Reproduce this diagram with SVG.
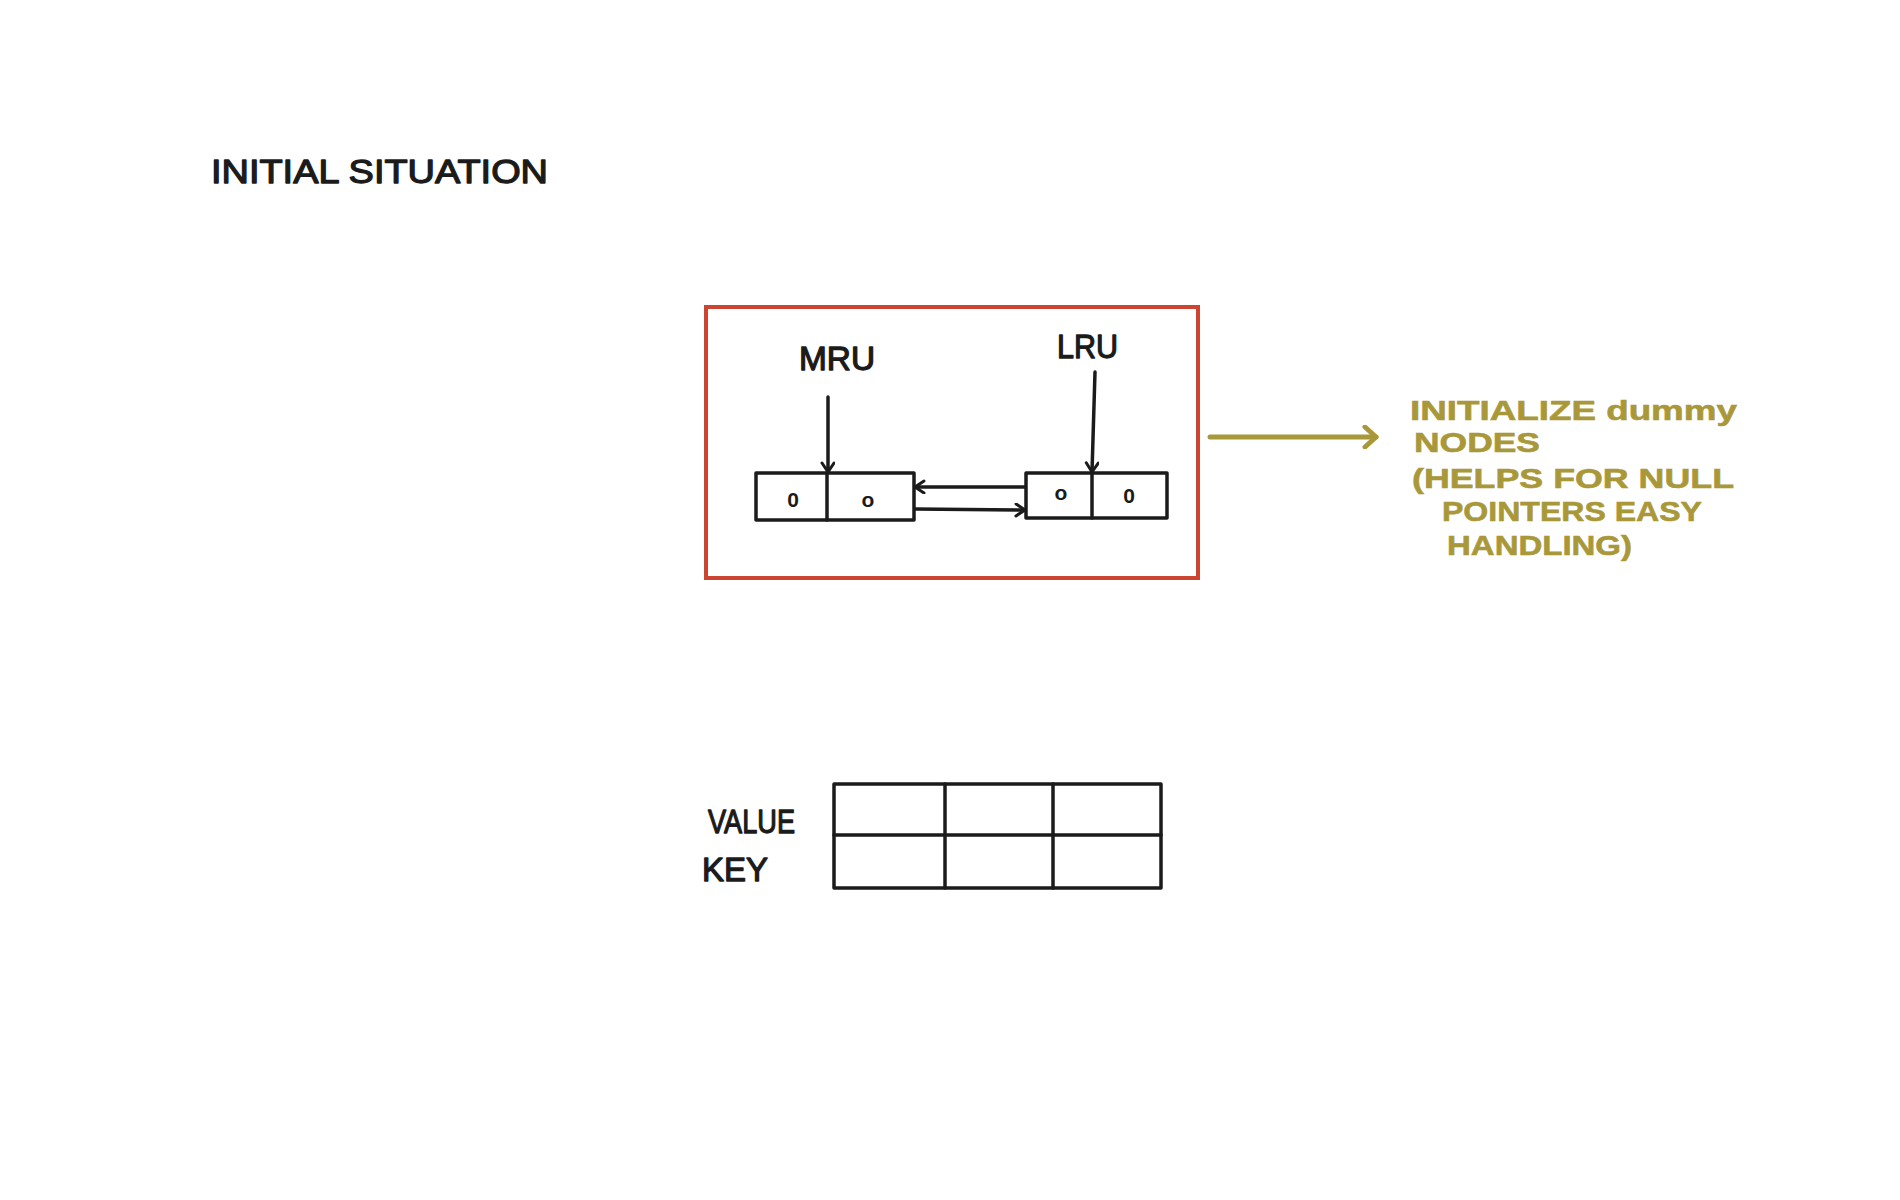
<svg xmlns="http://www.w3.org/2000/svg" width="1900" height="1200" viewBox="0 0 1900 1200">
  <style>
    .ink { fill: none; stroke: #1b1b1b; stroke-width: 3.5; stroke-linecap: round; stroke-linejoin: round; }
    .frame { fill: none; stroke: #cb4532; stroke-width: 4; }
    .gold { fill: none; stroke: #a9983a; stroke-width: 5; stroke-linecap: round; stroke-linejoin: round; }
    .lbl { font-family: "Liberation Sans", Arial, sans-serif; fill: #1b1b1b; stroke: #1b1b1b; stroke-width: 1.3; stroke-linejoin: round; font-size: 34px; }
    .cell { font-family: "Liberation Sans", Arial, sans-serif; fill: #1b1b1b; font-size: 21px; font-weight: bold; text-anchor: middle; }
    .note { font-family: "Liberation Sans", Arial, sans-serif; fill: #a9983a; stroke: #a9983a; stroke-width: 0.6; font-size: 28px; font-weight: bold; }
  </style>
  <defs>
    <marker id="ah" markerUnits="userSpaceOnUse" markerWidth="16" markerHeight="16" refX="11" refY="7" orient="auto">
      <path d="M2,1 L11,7 L2,13" fill="none" stroke="#1b1b1b" stroke-width="3" stroke-linecap="round" stroke-linejoin="round"/>
    </marker>
    <marker id="ahg" markerUnits="userSpaceOnUse" markerWidth="20" markerHeight="24" refX="14" refY="12" orient="auto">
      <path d="M3,2 L14,12 L3,22" fill="none" stroke="#a9983a" stroke-width="5" stroke-linecap="round" stroke-linejoin="round"/>
    </marker>
  </defs>
  <rect width="1900" height="1200" fill="#ffffff"/>

  <g id="title">
    <text class="lbl" x="211" y="183" textLength="337" lengthAdjust="spacingAndGlyphs" stroke-width="2">INITIAL SITUATION</text>
  </g>

  <g id="dummy-frame">
    <rect class="frame" x="706" y="307" width="492" height="271"/>
  </g>

  <g id="mru-label">
    <text class="lbl" x="799" y="370" textLength="76" lengthAdjust="spacingAndGlyphs">MRU</text>
  </g>
  <g id="lru-label">
    <text class="lbl" x="1057" y="358" textLength="61" lengthAdjust="spacingAndGlyphs">LRU</text>
  </g>

  <g id="node-mru">
    <rect class="ink" x="756" y="473" width="158" height="47"/>
    <line class="ink" x1="827" y1="473" x2="827" y2="520"/>
    <text class="cell" x="793" y="507">0</text>
    <text class="cell" x="868" y="507" font-size="18">o</text>
  </g>

  <g id="node-lru">
    <rect class="ink" x="1026" y="473" width="141" height="45"/>
    <line class="ink" x1="1092" y1="473" x2="1092" y2="518"/>
    <text class="cell" x="1061" y="500" font-size="18">o</text>
    <text class="cell" x="1129" y="503">0</text>
  </g>

  <g id="note">
    <text class="note" x="1410" y="420" textLength="327" lengthAdjust="spacingAndGlyphs">INITIALIZE dummy</text>
    <text class="note" x="1414" y="452" textLength="126" lengthAdjust="spacingAndGlyphs">NODES</text>
    <text class="note" x="1412" y="488" textLength="322" lengthAdjust="spacingAndGlyphs">(HELPS FOR NULL</text>
    <text class="note" x="1442" y="521" textLength="260" lengthAdjust="spacingAndGlyphs">POINTERS EASY</text>
    <text class="note" x="1447" y="555" textLength="185" lengthAdjust="spacingAndGlyphs">HANDLING)</text>
  </g>

  <g id="hash-table">
    <rect class="ink" x="834" y="784" width="327" height="104"/>
    <line class="ink" x1="834" y1="835" x2="1161" y2="835"/>
    <line class="ink" x1="945" y1="784" x2="945" y2="888"/>
    <line class="ink" x1="1053" y1="784" x2="1053" y2="888"/>
  </g>
  <g id="table-labels">
    <text class="lbl" x="708" y="833" textLength="87" lengthAdjust="spacingAndGlyphs">VALUE</text>
    <text class="lbl" x="702" y="881" textLength="66" lengthAdjust="spacingAndGlyphs">KEY</text>
  </g>

  <g id="connectors">
    <line class="ink" x1="828" y1="397" x2="828" y2="472" stroke-width="3" marker-end="url(#ah)"/>
    <line class="ink" x1="1095" y1="372" x2="1092" y2="472" stroke-width="3" marker-end="url(#ah)"/>
    <line class="ink" x1="1025" y1="487" x2="915" y2="487" stroke-width="3" marker-end="url(#ah)"/>
    <line class="ink" x1="915" y1="509" x2="1025" y2="510" stroke-width="3" marker-end="url(#ah)"/>
    <line class="gold" x1="1210" y1="437" x2="1376" y2="437" marker-end="url(#ahg)"/>
  </g>
</svg>
